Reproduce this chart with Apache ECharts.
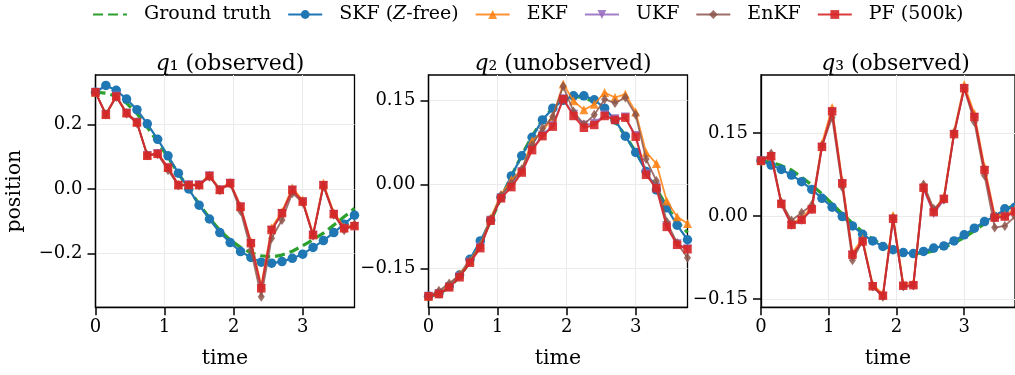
<!DOCTYPE html>
<html><head><meta charset="utf-8">
<script src="https://cdn.jsdelivr.net/npm/echarts@6/dist/echarts.min.js"></script>
<style>html,body{margin:0;padding:0;background:#fff}#c{width:1015px;height:375px}</style>
</head><body><div id="c"></div>
<script>
const t = [0, 0.15, 0.3, 0.45, 0.6, 0.75, 0.9, 1.05, 1.2, 1.35, 1.5, 1.65, 1.8, 1.95, 2.1, 2.25, 2.4, 2.55, 2.7, 2.85, 3.0, 3.15, 3.3, 3.45, 3.6, 3.75];
const xTicks = [0, 1, 2, 3];

const truth1 = [0.300, 0.297, 0.288, 0.266, 0.234, 0.191, 0.146, 0.098, 0.048, 0.001, -0.047, -0.090, -0.128, -0.158, -0.181, -0.198, -0.207, -0.211, -0.205, -0.193, -0.176, -0.157, -0.137, -0.112, -0.086, -0.060];
const skf1 = [0.300, 0.321, 0.306, 0.279, 0.246, 0.202, 0.154, 0.103, 0.049, 0.000, -0.050, -0.093, -0.135, -0.166, -0.194, -0.212, -0.227, -0.230, -0.225, -0.215, -0.202, -0.181, -0.160, -0.135, -0.109, -0.081];
const ekf1 = [0.300, 0.233, 0.290, 0.238, 0.209, 0.106, 0.112, 0.068, 0.014, 0.014, 0.015, 0.044, 0.000, 0.021, -0.052, -0.163, -0.298, -0.120, -0.070, 0.004, -0.034, -0.139, 0.018, -0.073, -0.118, -0.110];
const ukf1 = [0.300, 0.231, 0.288, 0.236, 0.207, 0.104, 0.110, 0.066, 0.012, 0.013, 0.013, 0.041, -0.002, 0.018, -0.056, -0.169, -0.309, -0.128, -0.076, -0.003, -0.040, -0.143, 0.011, -0.078, -0.123, -0.116];
const enkf1 = [0.300, 0.232, 0.285, 0.233, 0.204, 0.105, 0.108, 0.058, 0.011, 0.012, 0.011, 0.038, -0.004, 0.016, -0.068, -0.189, -0.334, -0.153, -0.096, -0.013, -0.042, -0.145, 0.009, -0.080, -0.128, -0.110];
const pf1 = [0.300, 0.230, 0.287, 0.235, 0.206, 0.103, 0.109, 0.066, 0.012, 0.012, 0.012, 0.040, -0.003, 0.018, -0.055, -0.168, -0.308, -0.127, -0.075, -0.003, -0.039, -0.143, 0.012, -0.078, -0.122, -0.115];

const truth2 = [-0.200, -0.196, -0.184, -0.165, -0.138, -0.104, -0.066, -0.025, 0.015, 0.052, 0.086, 0.115, 0.137, 0.151, 0.157, 0.155, 0.147, 0.132, 0.112, 0.087, 0.058, 0.026, -0.007, -0.040, -0.066, -0.086];
const skf2 = [-0.200, -0.195, -0.182, -0.162, -0.134, -0.101, -0.064, -0.023, 0.015, 0.051, 0.084, 0.115, 0.136, 0.150, 0.158, 0.158, 0.151, 0.136, 0.115, 0.086, 0.057, 0.023, -0.010, -0.042, -0.073, -0.099];
const ekf2 = [-0.200, -0.193, -0.180, -0.160, -0.136, -0.108, -0.060, -0.018, 0.008, 0.026, 0.078, 0.094, 0.121, 0.179, 0.149, 0.133, 0.143, 0.164, 0.155, 0.161, 0.129, 0.057, 0.037, -0.030, -0.058, -0.070];
const ukf2 = [-0.200, -0.195, -0.183, -0.165, -0.139, -0.112, -0.064, -0.024, -0.003, 0.023, 0.063, 0.088, 0.105, 0.153, 0.125, 0.106, 0.109, 0.124, 0.117, 0.120, 0.087, 0.019, -0.005, -0.074, -0.106, -0.115];
const enkf2 = [-0.200, -0.190, -0.177, -0.162, -0.138, -0.110, -0.063, -0.020, 0.002, 0.027, 0.070, 0.100, 0.121, 0.175, 0.130, 0.107, 0.124, 0.152, 0.145, 0.155, 0.124, 0.045, 0.006, -0.067, -0.105, -0.131];
const pf2 = [-0.200, -0.196, -0.184, -0.166, -0.140, -0.114, -0.065, -0.025, -0.005, 0.021, 0.061, 0.086, 0.103, 0.152, 0.122, 0.101, 0.106, 0.122, 0.115, 0.119, 0.085, 0.017, -0.007, -0.076, -0.108, -0.116];

const truth3 = [0.100, 0.097, 0.091, 0.083, 0.070, 0.056, 0.040, 0.022, 0.004, -0.013, -0.029, -0.042, -0.053, -0.061, -0.066, -0.068, -0.067, -0.063, -0.057, -0.049, -0.039, -0.027, -0.014, -0.002, 0.010, 0.021];
const skf3 = [0.100, 0.092, 0.084, 0.074, 0.062, 0.048, 0.032, 0.016, -0.001, -0.018, -0.033, -0.045, -0.055, -0.061, -0.066, -0.068, -0.064, -0.058, -0.054, -0.045, -0.034, -0.022, -0.010, -0.001, 0.013, 0.016];
const ekf3 = [0.100, 0.110, 0.026, -0.013, -0.004, 0.016, 0.131, 0.196, 0.064, -0.066, -0.041, -0.124, -0.141, 0.001, -0.122, -0.121, 0.055, 0.010, 0.035, 0.153, 0.237, 0.185, 0.089, 0.002, 0.002, 0.012];
const ukf3 = [0.100, 0.107, 0.021, -0.017, -0.008, 0.011, 0.124, 0.188, 0.058, -0.071, -0.047, -0.128, -0.146, -0.006, -0.128, -0.127, 0.049, 0.004, 0.029, 0.147, 0.230, 0.178, 0.082, -0.004, -0.002, 0.007];
const enkf3 = [0.100, 0.113, 0.024, -0.008, 0.006, 0.020, 0.127, 0.178, 0.052, -0.080, -0.045, -0.127, -0.146, -0.004, -0.127, -0.125, 0.057, 0.013, 0.030, 0.150, 0.231, 0.170, 0.073, -0.021, -0.018, -0.001];
const pf3 = [0.100, 0.108, 0.022, -0.016, -0.007, 0.012, 0.125, 0.189, 0.059, -0.070, -0.046, -0.127, -0.144, -0.005, -0.126, -0.125, 0.051, 0.007, 0.031, 0.148, 0.231, 0.179, 0.083, -0.003, -0.001, 0.008];

const yTicks1 = [-0.2, 0.0, 0.2];
const yTicks2 = [-0.15, 0.0, 0.15];
const yTicks3 = [-0.15, 0.0, 0.15];
const yRange1 = [-0.3668, 0.3535];
const yRange2 = [-0.2196, 0.1952];
const yRange3 = [-0.165, 0.2548];
const titles = ['(observed)', '(unobserved)', '(observed)'];
const subs = ['₁', '₂', '₃'];
const names = ['Ground truth', 'SKF (Z-free)', 'EKF', 'UKF', 'EnKF', 'PF (500k)'];

const FONT = 'DejaVu Serif';
const C = {gt:'#2ca02c', skf:'#1f77b4', ekf:'#ff7f0e', ukf:'#9467bd', enkf:'#8c564b', pf:'#d62728'};
const panels = [
  {truth:truth1, skf:skf1, ekf:ekf1, ukf:ukf1, enkf:enkf1, pf:pf1, ticks:yTicks1, range:yRange1, dec:1},
  {truth:truth2, skf:skf2, ekf:ekf2, ukf:ukf2, enkf:enkf2, pf:pf2, ticks:yTicks2, range:yRange2, dec:2},
  {truth:truth3, skf:skf3, ekf:ekf3, ukf:ukf3, enkf:enkf3, pf:pf3, ticks:yTicks3, range:yRange3, dec:2}
];
const lefts = [95.5, 428.5, 761];
const W = 259, TOP = 75, H = 232.3;

const pair = arr => arr.map((v, i) => [t[i], v]);
const fmt = dec => v => (v < -1e-9 ? '−' : '') + Math.abs(v).toFixed(dec);

const grids = [], xAxes = [], yAxes = [], series = [], titleArr = [];
panels.forEach((p, k) => {
  grids.push({left: lefts[k], top: TOP, width: W, height: H, show: true, borderColor: '#000', borderWidth: 1.3, backgroundColor: 'transparent', containLabel: false});
  xAxes.push({type: 'value', gridIndex: k, min: 0, max: 3.75,
    name: 'time', nameLocation: 'middle', nameGap: 41,
    nameTextStyle: {fontFamily: FONT, fontSize: 20.5, color: '#000'},
    axisLine: {show: true, onZero: false, lineStyle: {color: '#000', width: 1.3}},
    axisTick: {show: true, length: 8, lineStyle: {color: '#000', width: 1.5}, customValues: xTicks},
    axisLabel: {show: true, margin: 11, fontFamily: FONT, fontSize: 18, color: '#000', customValues: xTicks},
    splitLine: {show: true, lineStyle: {color: '#ebebeb', width: 1}}
  });
  yAxes.push({type: 'value', gridIndex: k, min: p.range[0], max: p.range[1],
    name: k === 0 ? 'position' : '', nameLocation: 'middle', nameGap: 70,
    nameTextStyle: {fontFamily: FONT, fontSize: 20.5, color: '#000'},
    axisLine: {show: true, onZero: false, lineStyle: {color: '#000', width: 1.3}},
    axisTick: {show: true, length: 8, lineStyle: {color: '#000', width: 1.5}, customValues: p.ticks},
    axisLabel: {show: true, margin: 13, fontFamily: FONT, fontSize: 18, color: '#000', customValues: p.ticks, formatter: fmt(p.dec)},
    splitLine: {show: true, lineStyle: {color: '#ebebeb', width: 1}}
  });
  titleArr.push({
    text: '{q|q}{n|' + subs[k] + ' ' + titles[k] + '}',
    left: lefts[k] + W / 2, top: 48, textAlign: 'center',
    textStyle: {fontWeight: 'normal', rich: {
      q: {fontFamily: FONT, fontStyle: 'italic', fontWeight: 'normal', fontSize: 22, color: '#000'},
      n: {fontFamily: FONT, fontWeight: 'normal', fontSize: 22, color: '#000'}
    }}
  });
  const base = {type: 'line', xAxisIndex: k, yAxisIndex: k, clip: true, animation: false};
  series.push(Object.assign({}, base, {name: names[0], data: pair(p.truth), showSymbol: false, symbol: 'none', z: 2,
    lineStyle: {color: C.gt, width: 3.2, type: [10, 5]}, itemStyle: {color: C.gt, opacity: 0}}));
  series.push(Object.assign({}, base, {name: names[1], data: pair(p.skf), symbol: 'circle', symbolSize: 9.5, z: 3,
    lineStyle: {color: C.skf, width: 2.2}, itemStyle: {color: C.skf}}));
  series.push(Object.assign({}, base, {name: names[2], data: pair(p.ekf), symbol: 'triangle', symbolSize: 9, z: 4,
    lineStyle: {color: C.ekf, width: 1.8, opacity: 0.85}, itemStyle: {color: C.ekf, opacity: 0.85}}));
  series.push(Object.assign({}, base, {name: names[3], data: pair(p.ukf), symbol: 'triangle', symbolRotate: 180, symbolSize: 9, z: 5,
    lineStyle: {color: C.ukf, width: 1.8, opacity: 0.85}, itemStyle: {color: C.ukf, opacity: 0.85}}));
  series.push(Object.assign({}, base, {name: names[4], data: pair(p.enkf), symbol: 'diamond', symbolSize: [7, 10], z: 6,
    lineStyle: {color: C.enkf, width: 1.8, opacity: 0.85}, itemStyle: {color: C.enkf, opacity: 0.85}}));
  series.push(Object.assign({}, base, {name: names[5], data: pair(p.pf), symbol: 'rect', symbolSize: 8.5, z: 7,
    lineStyle: {color: C.pf, width: 2, opacity: 0.9}, itemStyle: {color: C.pf, opacity: 0.9}}));
});

const chart = echarts.init(document.getElementById('c'), null, {renderer: 'canvas'});
chart.setOption({
  animation: false,
  backgroundColor: '#fff',
  title: titleArr,
  legend: {
    data: names, left: 87, top: 0, itemWidth: 34, itemHeight: 11, itemGap: 16,
    textStyle: {fontFamily: FONT, fontSize: 19, color: '#000',
      rich: {sp: {width: 12}, n: {fontFamily: FONT, fontSize: 19, color: '#000'}, z: {fontFamily: FONT, fontSize: 19, fontStyle: 'italic', color: '#000'}}},
    formatter: function (name) {
      if (name === 'SKF (Z-free)') return '{sp|}{n|SKF (}{z|Z}{n|-free)}';
      return '{sp|}{n|' + name + '}';
    }
  },
  grid: grids, xAxis: xAxes, yAxis: yAxes, series: series
});
</script></body></html>
